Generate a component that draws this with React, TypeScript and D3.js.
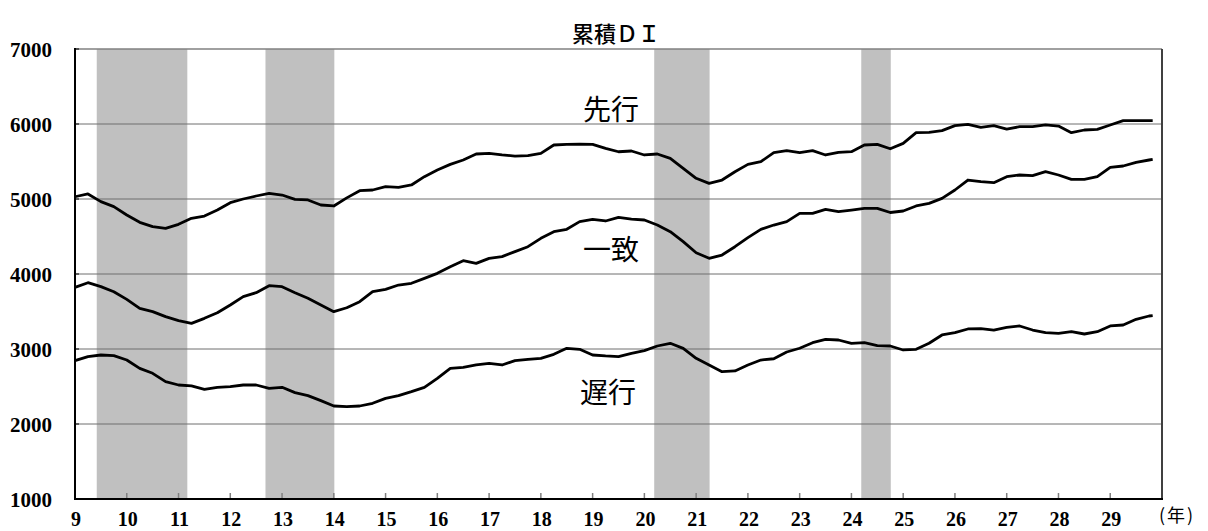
import React from "react";
import * as d3 from "d3";

const TITLE = "累積ＤＩ";
const YEAR_TICKS = [9, 10, 11, 12, 13, 14, 15, 16, 17, 18, 19, 20, 21, 22, 23, 24, 25, 26, 27, 28, 29];
const Y_TICKS = [1000, 2000, 3000, 4000, 5000, 6000, 7000];
// recession shading (year positions)
const RECESSIONS: [number, number][] = [
  [9.42, 11.17],
  [12.68, 14.01],
  [20.19, 21.26],
  [24.19, 24.76],
];
// quarterly observation points (Heisei year), last point = latest month
const PERIODS = [
  9.0, 9.25, 9.5, 9.75, 10.0, 10.25, 10.5, 10.75, 11.0, 11.25, 11.5, 11.75, 12.0, 12.25, 12.5, 12.75, 13.0, 13.25, 13.5, 13.75,
  14.0, 14.25, 14.5, 14.75, 15.0, 15.25, 15.5, 15.75, 16.0, 16.25, 16.5, 16.75, 17.0, 17.25, 17.5, 17.75, 18.0, 18.25, 18.5, 18.75,
  19.0, 19.25, 19.5, 19.75, 20.0, 20.25, 20.5, 20.75, 21.0, 21.25, 21.5, 21.75, 22.0, 22.25, 22.5, 22.75, 23.0, 23.25, 23.5, 23.75,
  24.0, 24.25, 24.5, 24.75, 25.0, 25.25, 25.5, 25.75, 26.0, 26.25, 26.5, 26.75, 27.0, 27.25, 27.5, 27.75, 28.0, 28.25, 28.5, 28.75,
  29.0, 29.25, 29.5, 29.75, 29.82,
];
const LEADING = [
  5030, 5067, 4965, 4898, 4787, 4689, 4631, 4609, 4662, 4742, 4773, 4853, 4951, 5000, 5040, 5076, 5053, 4996, 4987, 4920,
  4907, 5015, 5111, 5120, 5164, 5156, 5187, 5298, 5387, 5462, 5520, 5600, 5609, 5587, 5573, 5578, 5609, 5720, 5729, 5733,
  5729, 5676, 5630, 5640, 5587, 5600, 5542, 5409, 5276, 5209, 5253, 5364, 5462, 5498, 5618, 5644, 5618, 5644, 5587, 5622,
  5631, 5720, 5729, 5670, 5742, 5884, 5889, 5911, 5978, 5996, 5956, 5978, 5933, 5964, 5964, 5987, 5973, 5884, 5920, 5929,
  5987, 6044, 6044, 6044, 6044,
];
const COINCIDENT = [
  3822, 3884, 3831, 3764, 3662, 3542, 3498, 3431, 3378, 3342, 3409, 3484, 3587, 3698, 3751, 3844, 3831, 3751, 3676, 3587,
  3498, 3550, 3631, 3764, 3796, 3853, 3876, 3942, 4009, 4098, 4178, 4142, 4209, 4231, 4298, 4364, 4476, 4564, 4596, 4698,
  4729, 4707, 4756, 4733, 4720, 4653, 4564, 4431, 4284, 4209, 4253, 4364, 4484, 4596, 4653, 4698, 4809, 4809, 4862, 4831,
  4853, 4876, 4876, 4820, 4840, 4907, 4942, 5009, 5120, 5253, 5231, 5218, 5298, 5320, 5311, 5364, 5320, 5262, 5262, 5298,
  5422, 5440, 5489, 5520, 5529,
];
const LAGGING = [
  2844, 2898, 2920, 2911, 2853, 2742, 2676, 2564, 2520, 2507, 2462, 2489, 2498, 2520, 2520, 2476, 2489, 2418, 2378, 2311,
  2240, 2231, 2240, 2276, 2342, 2378, 2431, 2489, 2609, 2742, 2756, 2787, 2809, 2787, 2844, 2862, 2876, 2929, 3009, 2996,
  2920, 2907, 2898, 2942, 2978, 3040, 3076, 3009, 2876, 2787, 2698, 2707, 2787, 2853, 2870, 2960, 3010, 3084, 3129, 3120,
  3076, 3084, 3044, 3040, 2987, 2996, 3076, 3187, 3218, 3267, 3271, 3253, 3289, 3307, 3253, 3218, 3209, 3231, 3200, 3231,
  3307, 3320, 3396, 3440, 3445,
];
const SERIES = [
  { name: "先行", values: LEADING, label: [611, 6213] },
  { name: "一致", values: COINCIDENT, label: [611, 4353] },
  { name: "遅行", values: LAGGING, label: [608, 2440] },
];

const W = 1208;
const H = 531;
const L = 75, R = 1162, T = 49, B = 499;

export default function App() {
  const x = d3.scaleLinear().domain([9, 30]).range([L, R]);
  const y = d3.scaleLinear().domain([1000, 7000]).range([B, T]);
  const line = d3
    .line<number>()
    .x((_, i) => x(PERIODS[i]))
    .y((d) => y(d))
    .curve(d3.curveLinear);
  const serif = "'Liberation Serif', 'DejaVu Serif', serif";
  const cjk = "'Noto Sans CJK JP', 'Noto Sans', sans-serif";
  return (
    <svg width={W} height={H} style={{ position: "absolute", left: 0, top: 0, background: "#fff" }}>
      <rect x={0} y={0} width={W} height={H} fill="#fff" />
      {RECESSIONS.map(([a, b], i) => (
        <rect key={i} x={x(a)} y={T} width={x(b) - x(a)} height={B - T} fill="#c0c0c0" />
      ))}
      {Y_TICKS.filter((v) => v > 1000 && v < 7000).map((v) => (
        <line key={v} x1={L} x2={R} y1={y(v)} y2={y(v)} stroke="#6e6e6e" strokeWidth={1} />
      ))}
      {/* top border */}
      <line x1={L} x2={R} y1={T} y2={T} stroke="#808080" strokeWidth={1.6} />
      {/* right border */}
      <line x1={R} x2={R} y1={T} y2={B} stroke="#404040" strokeWidth={2} />
      {/* x ticks */}
      {YEAR_TICKS.filter((v) => v > 9).map((v) => (
        <line key={v} x1={x(v)} x2={x(v)} y1={B} y2={B - 6} stroke="#808080" strokeWidth={1.5} />
      ))}
      {/* axes */}
      <line x1={L} x2={L} y1={T - 1} y2={B + 1} stroke="#000" strokeWidth={2} />
      <line x1={L - 1} x2={R + 1} y1={B} y2={B} stroke="#000" strokeWidth={2} />
      {Y_TICKS.map((v) => (
        <line key={"yt" + v} x1={L} x2={L + 4} y1={y(v)} y2={y(v)} stroke="#000" strokeWidth={1} />
      ))}
      {SERIES.map((s) => (
        <path key={s.name} d={line(s.values) || ""} fill="none" stroke="#000" strokeWidth={2.8} strokeLinejoin="round" />
      ))}
      {SERIES.map((s) => (
        <text
          key={"l" + s.name}
          x={s.label[0]}
          y={y(s.label[1])}
          textAnchor="middle"
          dominantBaseline="central"
          fontFamily={cjk}
          fontSize={28}
          fill="#000"
        >
          {s.name}
        </text>
      ))}
      {Y_TICKS.map((v) => (
        <text key={"yl" + v} x={52} y={y(v) + 8} textAnchor="end" fontFamily={serif} fontWeight="bold" fontSize={21} fill="#000">
          {v}
        </text>
      ))}
      {YEAR_TICKS.map((v) => (
        <text key={"xl" + v} x={x(v) + 1} y={526} textAnchor="middle" fontFamily={serif} fontWeight="bold" fontSize={20} fill="#000">
          {v}
        </text>
      ))}
      <text x={1177} y={514} textAnchor="middle" dominantBaseline="central" fontFamily={cjk} fontSize={18} letterSpacing={2} fill="#000">
        (年)
      </text>
      <text x={616} y={32} textAnchor="middle" dominantBaseline="central" fontFamily={cjk} fontSize={22} fontWeight="500" fill="#000">
        {TITLE}
      </text>
    </svg>
  );
}
